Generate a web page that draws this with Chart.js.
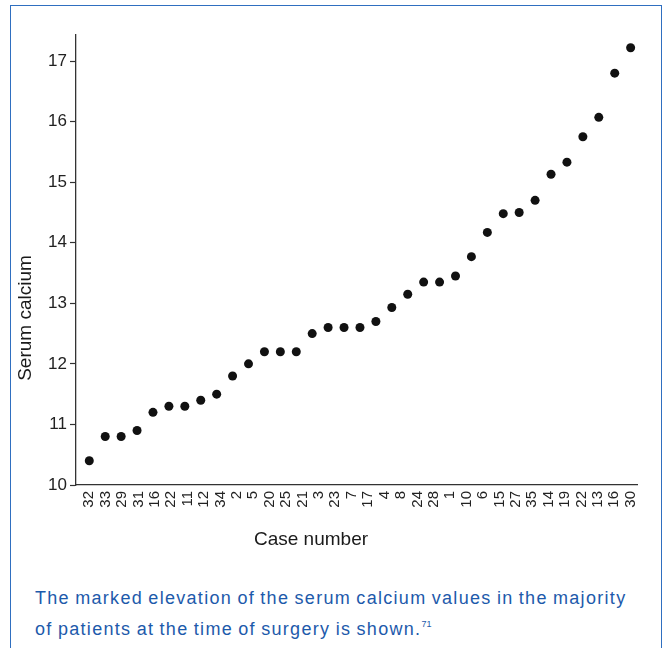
<!DOCTYPE html>
<html>
<head>
<meta charset="utf-8">
<script src="https://cdn.jsdelivr.net/npm/chart.js@4/dist/chart.umd.min.js"></script>
<style>
  html, body { margin: 0; padding: 0; background: #fff; }
  body { width: 670px; height: 648px; position: relative; overflow: hidden; font-family: "Liberation Sans", Arial, sans-serif; }
  #frame { position: absolute; left: 10px; top: 5px; width: 652px; height: 700px; border: 1.5px solid #2f6fc0; box-sizing: border-box; }
  #wrap { position: absolute; left: 0; top: 0; width: 670px; height: 560px; }
  #caption { position: absolute; left: 35px; top: 583px; color: #1d5aab; font-size: 18px; line-height: 31px; letter-spacing: 1.3px; word-spacing: -1px; white-space: nowrap; }
  #caption sup { font-size: 9px; vertical-align: 8px; line-height: 0; letter-spacing: 0; }
</style>
</head>
<body>
<div id="frame"></div>
<div id="wrap"><canvas id="c" width="670" height="560"></canvas></div>
<div id="caption">The marked elevation of the serum calcium values in the majority<br>of patients at the time of surgery is shown.<sup>71</sup></div>
<script>
// ---- data ----
const caseLabels = ["32","33","29","31","16","22","11","12","34","2","5","20","25","21","3","23","7","17","4","8","24","28","1","10","6","15","27","35","14","19","22","13","16","30"];
const serumCalcium = [10.4, 10.8, 10.8, 10.9, 11.2, 11.3, 11.3, 11.4, 11.5, 11.8, 12.0, 12.2, 12.2, 12.2, 12.5, 12.6, 12.6, 12.6, 12.7, 12.93, 13.15, 13.35, 13.35, 13.45, 13.77, 14.17, 14.48, 14.5, 14.7, 15.13, 15.33, 15.75, 16.07, 16.8, 17.22];
const yTicks = [10, 11, 12, 13, 14, 15, 16, 17];
const yTitle = "Serum calcium";
const xTitle = "Case number";

const points = serumCalcium.map((v, i) => ({ x: i, y: v }));
const nPts = serumCalcium.length;
const nLab = caseLabels.length;

const titlePlugin = {
  id: 'axisTitles',
  afterDraw(chart) {
    const ctx = chart.ctx;
    const ca = chart.chartArea;
    ctx.save();
    ctx.fillStyle = '#1a1a1a';
    ctx.font = '19px "Liberation Sans", Arial, sans-serif';
    ctx.textAlign = 'center';
    ctx.textBaseline = 'middle';
    ctx.fillText(xTitle, ca.left + 235, ca.bottom + 55);
    ctx.translate(ca.left - 50, ca.bottom - 167);
    ctx.rotate(-Math.PI / 2);
    ctx.fillText(yTitle, 0, 0);
    ctx.restore();
  }
};

new Chart(document.getElementById('c'), {
  type: 'scatter',
  data: {
    datasets: [{
      data: points,
      backgroundColor: '#111',
      borderWidth: 0,
      pointRadius: 4.5,
      pointHoverRadius: 4.5
    }]
  },
  options: {
    responsive: false,
    animation: false,
    devicePixelRatio: 1,
    events: [],
    layout: { padding: { left: 0, right: 33, top: 35, bottom: 0 } },
    plugins: { legend: { display: false }, tooltip: { enabled: false } },
    scales: {
      x: {
        type: 'linear',
        min: -0.835,
        max: 34.4,
        afterBuildTicks: (s) => { s.ticks = caseLabels.map((_, i) => ({ value: i * (nPts - 1) / (nLab - 1) })); },
        afterFit: (s) => { s.height = 75; },
        grid: { display: true, drawOnChartArea: false, drawTicks: false },
        border: { display: true, color: '#333', width: 1.3 },
        ticks: {
          autoSkip: false,
          maxRotation: 90,
          minRotation: 90,
          padding: 6,
          color: '#222',
          font: { size: 15, family: '"Liberation Sans", Arial, sans-serif' },
          callback: (v, i) => caseLabels[i]
        }
      },
      y: {
        type: 'linear',
        min: 10,
        max: 17.43,
        afterBuildTicks: (s) => { s.ticks = yTicks.map(v => ({ value: v })); },
        afterFit: (s) => { s.width = 76; },
        grid: { display: true, drawOnChartArea: false, drawTicks: true, tickLength: 6, color: '#333', tickWidth: 1.2 },
        border: { display: true, color: '#333', width: 1.3 },
        ticks: {
          padding: 3,
          color: '#222',
          font: { size: 17, family: '"Liberation Sans", Arial, sans-serif' },
          callback: (v) => String(v)
        }
      }
    }
  },
  plugins: [titlePlugin]
});
</script>
</body>
</html>
